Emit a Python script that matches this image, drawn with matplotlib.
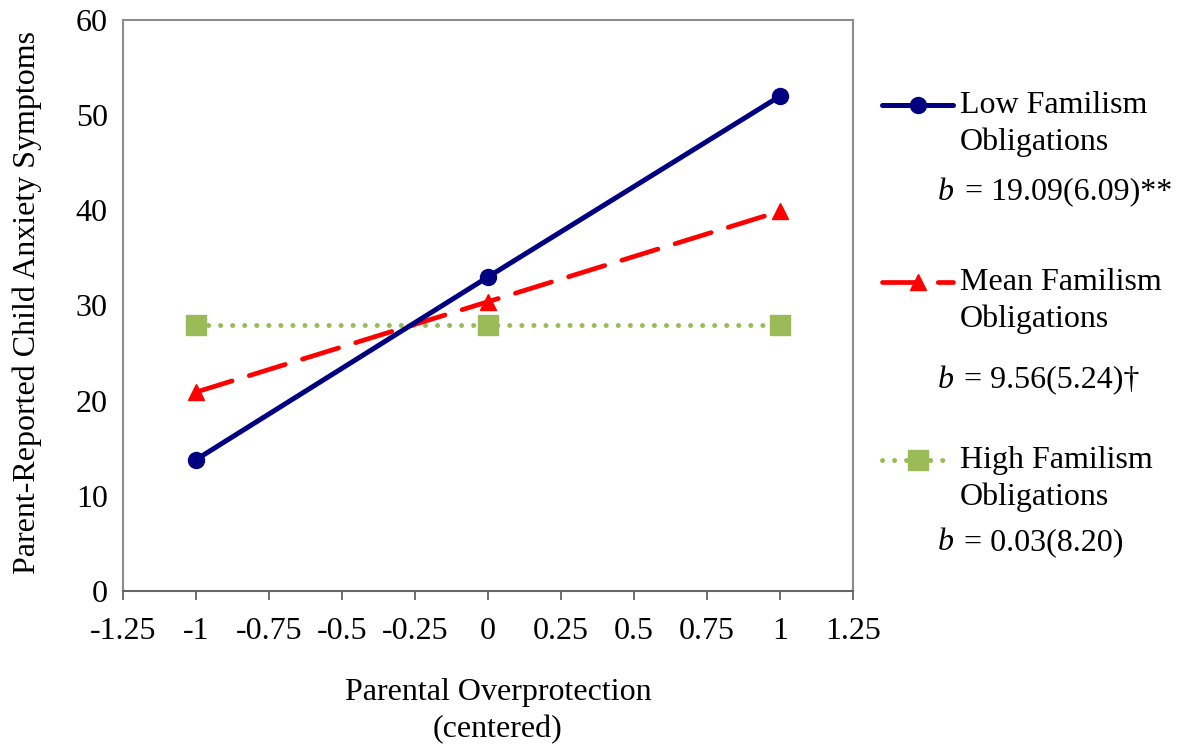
import matplotlib
matplotlib.use("Agg")
import matplotlib.pyplot as plt
from matplotlib.lines import Line2D

plt.rcParams['font.family'] = ['Liberation Serif', 'DejaVu Serif']

# Data
x_vals = [-1, 0, 1]
low_vals = [13.8, 33.0, 52.0]
mean_vals = [20.9, 30.4, 39.9]
high_vals = [28.0, 28.0, 28.0]
series_names = ["Low Familism\nObligations", "Mean Familism\nObligations", "High Familism\nObligations"]
b_texts = ["= 19.09(6.09)**", "= 9.56(5.24)\u2020", "= 0.03(8.20)"]
x_ticks = [-1.25, -1, -0.75, -0.5, -0.25, 0, 0.25, 0.5, 0.75, 1, 1.25]
x_tick_labels = ["-1.25", "-1", "-0.75", "-0.5", "-0.25", "0", "0.25", "0.5", "0.75", "1", "1.25"]
y_ticks = [0, 10, 20, 30, 40, 50, 60]

W, H = 1182, 748
fig = plt.figure(figsize=(W / 100, H / 100), dpi=100)
ax = fig.add_axes([123 / W, 1 - 591 / H, (853 - 123) / W, (591 - 20) / H])

FS = 23
blue = '#000080'
red = '#FF0000'
green = '#9BBB59'

low_style = dict(color=blue, lw=3.6, marker='o', markersize=11.5, solid_capstyle='round')
mean_style = dict(color=red, lw=3.4, marker='^', markersize=11, dashes=(8, 3.8), dash_capstyle='round')
high_style = dict(color=green, lw=3.6, marker='s', markersize=14, dashes=(0.01, 2.4), dash_capstyle='round')

ax.plot(x_vals, high_vals, zorder=3, **high_style)
ax.plot(x_vals, mean_vals, zorder=4, **mean_style)
ax.plot(x_vals, low_vals, zorder=5, **low_style)

ax.set_xlim(-1.25, 1.25)
ax.set_ylim(0, 60)
ax.set_xticks(x_ticks)
ax.set_xticklabels(x_tick_labels)
ax.set_yticks(y_ticks)
ax.tick_params(axis='x', direction='out', length=6.5, width=1.2, color='#555555', pad=12, labelsize=FS)
ax.tick_params(axis='y', length=0, pad=11, labelsize=FS)
for s in ax.spines.values():
    s.set_color('#8c8c8c')
    s.set_linewidth(1.5)
ax.spines['bottom'].set_color('#666666')


def fx(px):
    return px / W


def fy(py):
    return 1 - py / H


fig.text(fx(27), fy(303), "Parent-Reported Child Anxiety Symptoms", rotation=90,
         ha='center', va='center', fontsize=FS)
fig.text(fx(498), fy(711), "Parental Overprotection\n(centered)", ha='center', va='center',
         fontsize=FS, linespacing=1.34)

# Manual legend
legend_y = [105, 282, 460]
b_y = [192, 380, 543]
b_x = [965, 964, 964]
styles = [low_style, mean_style, high_style]
for i in range(3):
    ly = legend_y[i]
    ln = Line2D([fx(882), fx(918), fx(953)], [fy(ly)] * 3, transform=fig.transFigure,
                markevery=[1], **styles[i])
    fig.add_artist(ln)
    fig.text(fx(960), fy(ly + 19), series_names[i], ha='left', va='center', fontsize=FS,
             linespacing=1.36)
    fig.text(fx(938), fy(b_y[i]), "b", ha='left', va='center', fontsize=FS, style='italic')
    fig.text(fx(b_x[i]), fy(b_y[i]), b_texts[i], ha='left', va='center', fontsize=FS)

fig.savefig("out.png", dpi=100)
